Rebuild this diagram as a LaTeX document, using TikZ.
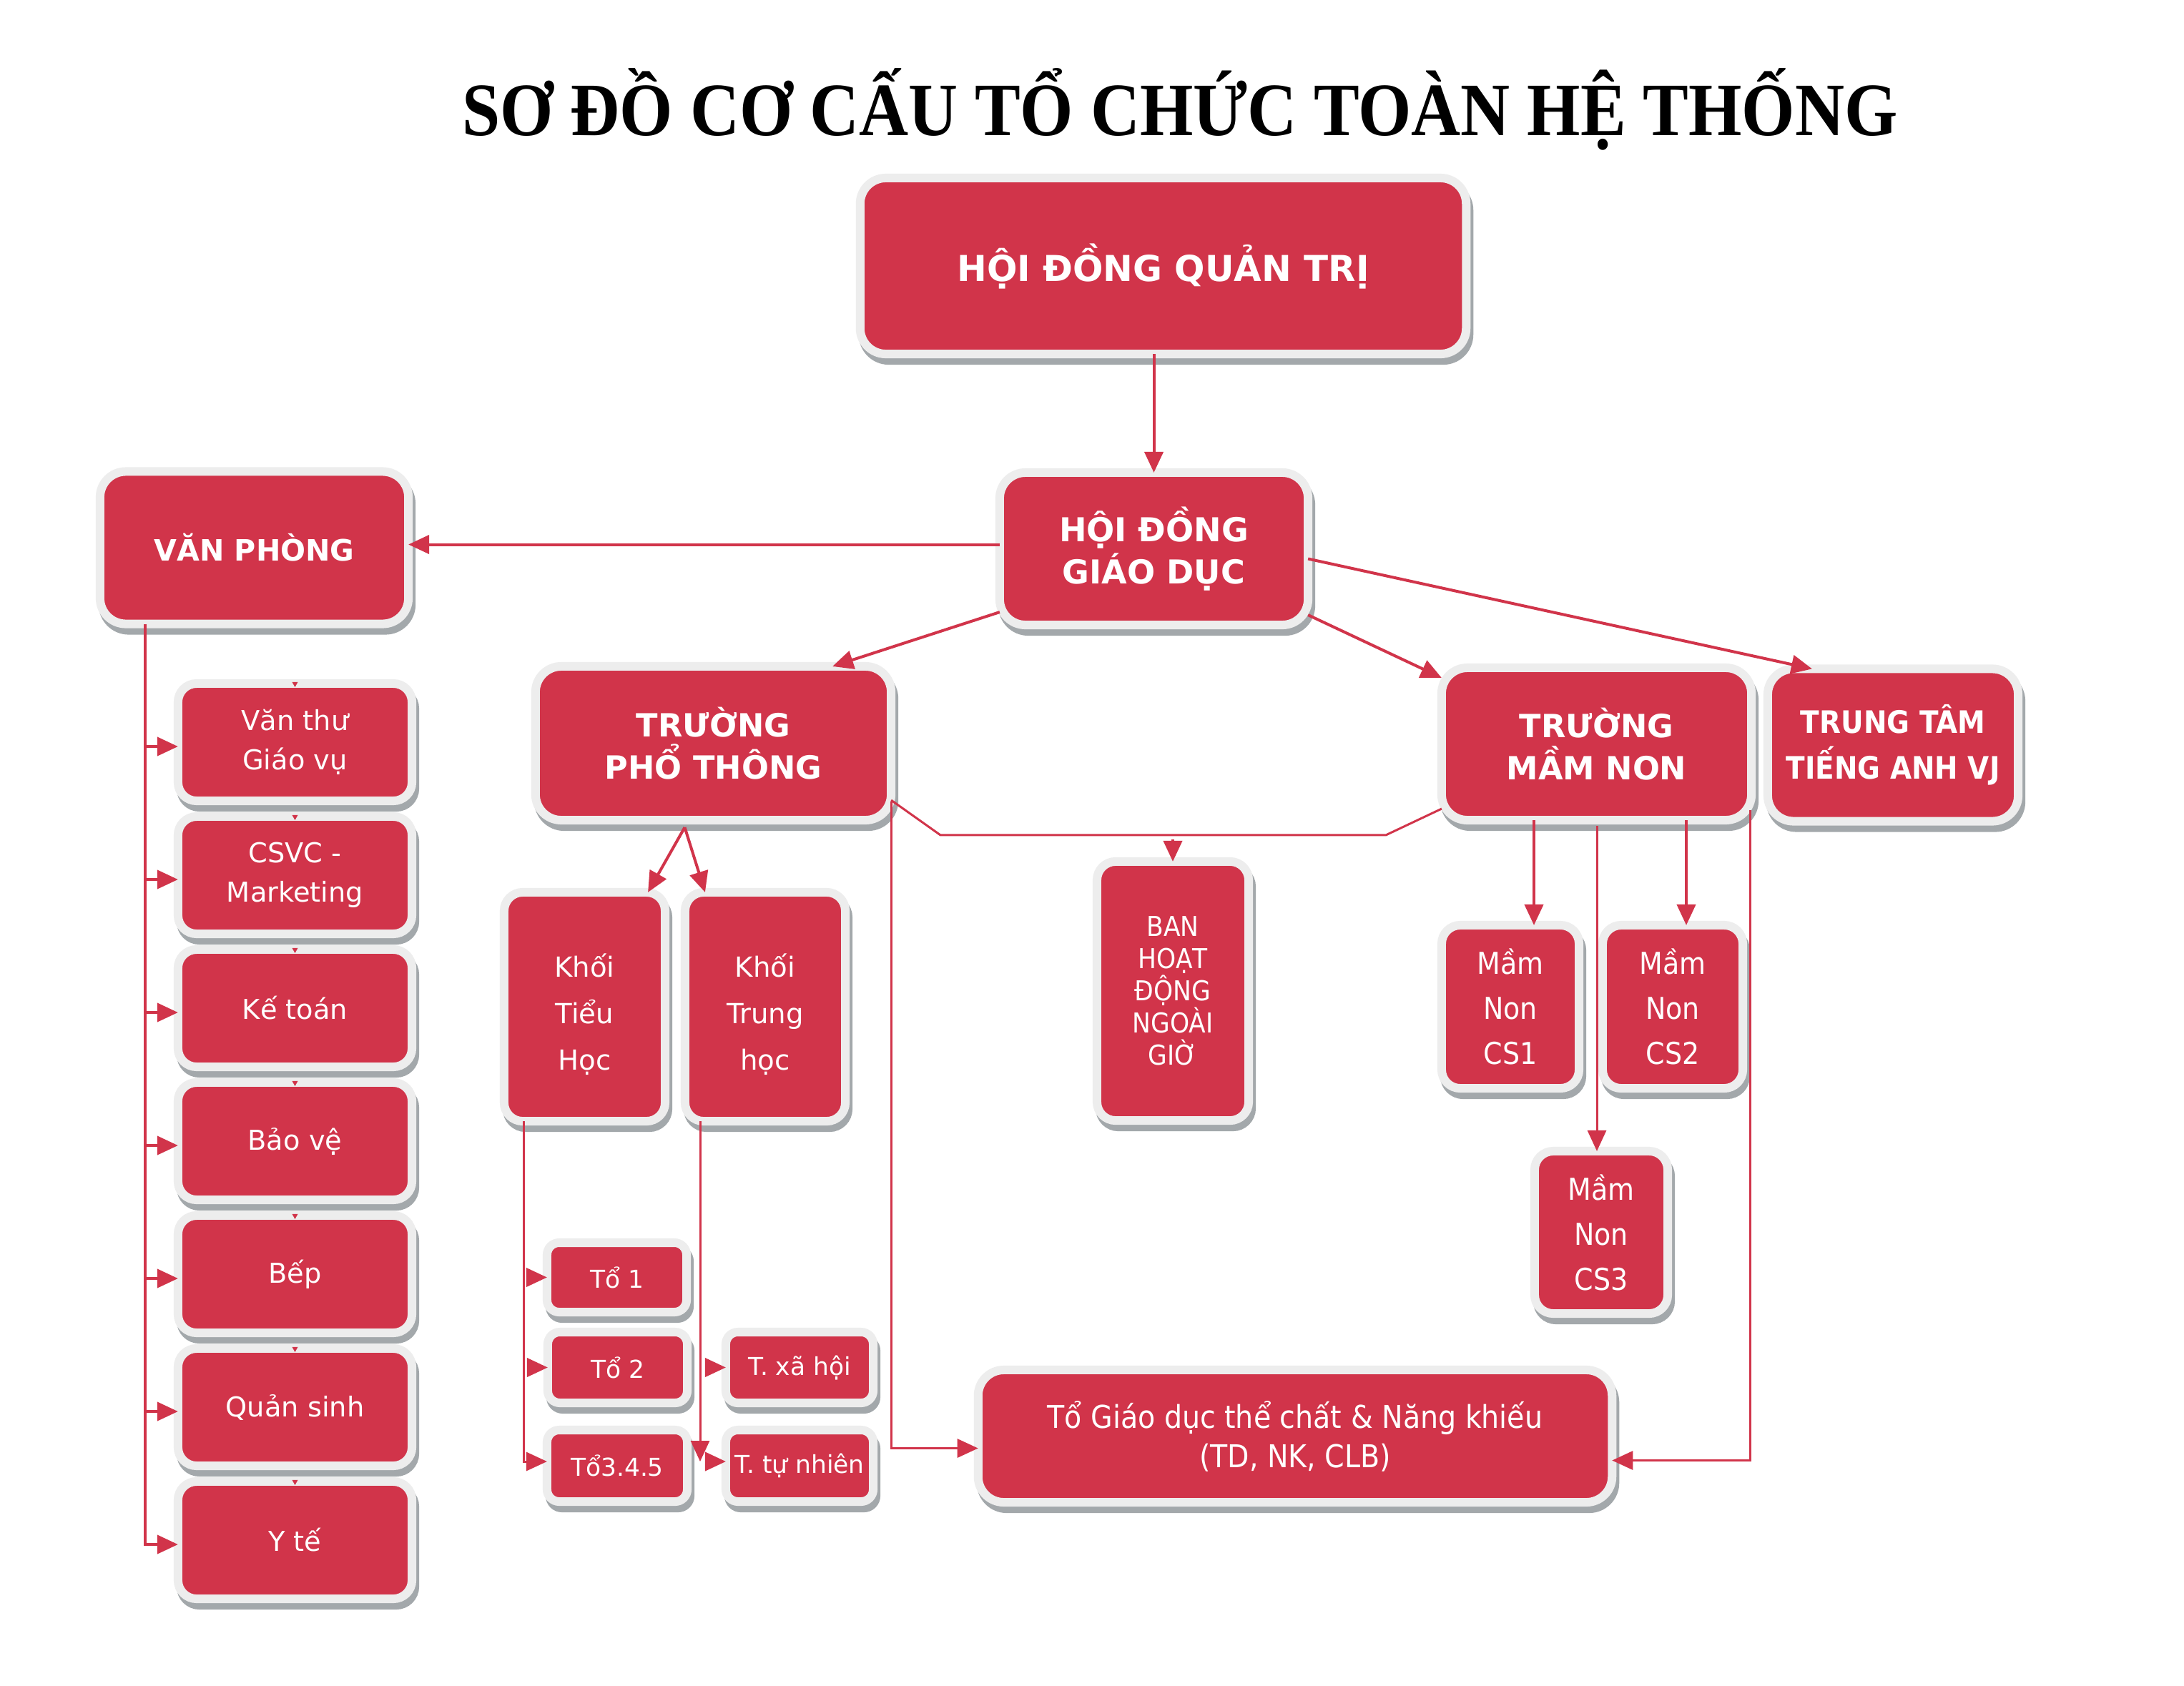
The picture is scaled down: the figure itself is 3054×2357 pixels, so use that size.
\documentclass[tikz,border=0pt]{standalone}
\usepackage{graphicx}
\usepackage{fontspec}
\setmainfont{DejaVu Sans}
\newfontfamily\fcond{DejaVu Sans Condensed}
\newfontfamily\ftitle{Liberation Serif}
\usetikzlibrary{arrows.meta}
\definecolor{boxred}{HTML}{D1344A}
\definecolor{rim}{HTML}{EDEDED}
\definecolor{shad}{HTML}{A3A8AB}
\definecolor{linered}{HTML}{D1344A}
\tikzset{
 base/.style={rectangle, fill=boxred, draw=rim, line width=0.12cm, inner sep=0pt, outer sep=0pt, text=white, align=center,
   preaction={fill=shad, draw=shad, line width=0.12cm, transform canvas={xshift=0.04cm, yshift=-0.09cm}}},
 big/.style={base, rounded corners=0.36cm},
 mid/.style={base, rounded corners=0.26cm},
 small/.style={base, rounded corners=0.17cm},
 subbox/.style={mid, minimum width=3.27cm, minimum height=1.64cm, font=\fontsize{10.9}{15.6}\selectfont},
 khoi/.style={mid, minimum width=2.25cm, minimum height=3.20cm, font=\fontsize{11}{18.5}\selectfont},
 tobox/.style={small, font=\fontsize{9.8}{12}\selectfont},
 csbox/.style={mid, minimum height=2.28cm, font=\fcond\fontsize{12}{17.9}\selectfont},
 head/.style={big, font=\bfseries\fontsize{12.7}{17}\selectfont},
 conn/.style={draw=linered, line width=0.04cm},
 arr/.style={conn, -{Triangle[length=0.29cm, width=0.26cm]}},
 thin/.style={draw=linered, line width=0.03cm},
 thinarr/.style={thin, -{Triangle[length=0.29cm, width=0.26cm]}},
}
\begin{document}
\begin{tikzpicture}[x=0.01cm, y=-0.01cm]
\fill[white] (0,0) rectangle (3054,2357);
\useasboundingbox (0,0) rectangle (3054,2357);

% title
\node[font=\ftitle\bfseries\fontsize{30}{36}\selectfont, inner sep=0pt, anchor=base] (title) at (1650,189)
  {\resizebox{20.06cm}{\height}{SƠ ĐỒ CƠ CẤU TỔ CHỨC TOÀN HỆ THỐNG}};

% main boxes
\node[big, minimum width=8.47cm, minimum height=2.46cm, font=\bfseries\fontsize{14.2}{17}\selectfont] (hdqt) at (1626.5,372) {HỘI ĐỒNG QUẢN TRỊ};
\node[big, minimum width=4.31cm, minimum height=2.13cm, font=\bfseries\fontsize{13.1}{17}\selectfont] (hdgd) at (1613.5,767.5) {HỘI ĐỒNG\\GIÁO DỤC};
\node[big, minimum width=4.31cm, minimum height=2.13cm, font=\bfseries\fontsize{11.7}{15}\selectfont] (vp) at (355.5,766) {VĂN PHÒNG};
\node[head, minimum width=4.97cm, minimum height=2.15cm] (pt) at (997.5,1039.5) {TRƯỜNG\\PHỔ THÔNG};
\node[head, minimum width=4.33cm, minimum height=2.13cm] (mn) at (2232.5,1040.5) {TRƯỜNG\\MẦM NON};
\node[big, minimum width=3.50cm, minimum height=2.13cm, font=\fcond\bfseries\fontsize{12.3}{18.2}\selectfont] (tt) at (2647,1042) {TRUNG TÂM\\TIẾNG ANH VJ};

% van phong children
\node[subbox] (vt) at (412.5,1038) {Văn thư\\Giáo vụ};
\node[subbox] (csvc) at (412.5,1224) {CSVC -\\Marketing};
\node[subbox] (kt) at (412.5,1410) {Kế toán};
\node[subbox] (bv) at (412.5,1596) {Bảo vệ};
\node[subbox] (bep) at (412.5,1782) {Bếp};
\node[subbox] (qs) at (412.5,1968) {Quản sinh};
\node[subbox] (yt) at (412.5,2154) {Y tế};

% pho thong children
\node[khoi] (kth) at (817.5,1408) {\raisebox{-0.2cm}[0pt][0pt]{\begin{tabular}{@{}c@{}}Khối\\Tiểu\\Học\end{tabular}}};
\node[khoi, minimum width=2.24cm] (ktrh) at (1070,1408) {\raisebox{-0.2cm}[0pt][0pt]{\begin{tabular}{@{}c@{}}Khối\\Trung\\học\end{tabular}}};
\node[tobox, minimum width=1.95cm, minimum height=0.97cm] (to1) at (862.5,1786.5) {Tổ 1};
\node[tobox, minimum width=1.95cm, minimum height=0.99cm] (to2) at (863.5,1912.5) {Tổ 2};
\node[tobox, minimum width=1.96cm, minimum height=1.00cm] (to345) at (863,2050) {Tổ3.4.5};
\node[tobox, minimum width=2.06cm, minimum height=0.99cm] (txh) at (1118,1912.5) {T. xã hội};
\node[tobox, minimum width=2.06cm, minimum height=1.00cm] (ttn) at (1118,2050) {T. tự nhiên};

% ban hoat dong
\node[mid, minimum width=2.12cm, minimum height=3.62cm, font=\fcond\fontsize{10.9}{12.8}\selectfont] (ban) at (1640,1386) {BAN\\HOẠT\\ĐỘNG\\NGOÀI\\GIỜ};

% mam non children
\node[csbox, minimum width=1.92cm] (cs1) at (2112,1408) {Mầm\\Non\\CS1};
\node[csbox, minimum width=1.96cm] (cs2) at (2339,1408) {Mầm\\Non\\CS2};
\node[csbox, minimum width=1.86cm, minimum height=2.27cm] (cs3) at (2239,1723.5) {Mầm\\Non\\CS3};

% to giao duc the chat
\node[big, minimum width=8.86cm, minimum height=1.85cm, font=\fcond\fontsize{12.5}{15.6}\selectfont] (gdtc) at (1811,2008.5) {Tổ Giáo dục thể chất \& Năng khiếu\\(TD, NK, CLB)};

% ---------- connectors ----------
\draw[arr] (hdgd.north |- hdqt.south) -- (hdgd.north);
\coordinate (hdw) at ([shift={(0,-6)}]hdgd.west);
\draw[arr] (hdw) -- (vp.east |- hdw);
\draw[arr] ([shift={(0,-18)}]hdgd.south west) -- ([shift={(-82,0)}]pt.north east);
\draw[arr] ([shift={(0,-14)}]hdgd.south east) -- ([shift={(0,14)}]mn.north west);
\draw[arr] ([shift={(0,14)}]hdgd.east) -- ([shift={(62,0)}]tt.north west);

% van phong tree
\coordinate (vpl) at ([shift={(-153,0)}]vp.south);
\foreach \n in {vt,csvc,kt,bv,bep,qs,yt} {
  \coordinate (\n-in) at ([shift={(0,6)}]\n.west);
}
\draw[arr] (vpl) |- (yt-in);
\foreach \n in {vt,csvc,kt,bv,bep,qs} {
  \draw[arr] (\n-in -| vpl) -- (\n-in);
}
\foreach \n in {vt,csvc,kt,bv,bep,qs,yt} {
  \fill[linered] ([shift={(-4,-2)}]\n.north) -- ([shift={(4,-2)}]\n.north) -- ([shift={(0,5)}]\n.north) -- cycle;
}

% pho thong -> khoi
\coordinate (ptap) at ([shift={(-40,10)}]pt.south);
\draw[arr] (ptap) -- ([shift={(-24,0)}]kth.north east);
\draw[arr] (ptap) -- ([shift={(28,0)}]ktrh.north west);

% khoi tieu hoc -> to
\coordinate (kthl) at ([shift={(-85,0)}]kth.south);
\coordinate (t345in) at ([shift={(0,-6)}]to345.west);
\draw[thinarr] (kthl) |- (t345in);
\draw[arr] ([shift={(-26,0)}]to1.west) -- (to1.west);
\draw[arr] ([shift={(-26,0)}]to2.west) -- (to2.west);

% khoi trung hoc -> to
\coordinate (ktrl) at ([shift={(-91,0)}]ktrh.south);
\draw[thinarr] (ktrl) -- (ktrl |- t345in);
\coordinate (ttnin) at ([shift={(0,-6)}]ttn.west);
\draw[arr] ([shift={(-28,0)}]ttnin) -- (ttnin);
\draw[arr] ([shift={(-26,0)}]txh.west) -- (txh.west);

% pho thong -> to giao duc the chat
\coordinate (ptr) at ([shift={(0,-26)}]pt.south east);
\coordinate (gdl) at ([shift={(0,17)}]gdtc.west);
\draw[thinarr] (ptr) |- (gdl);

% pho thong / mam non -> ban
\coordinate (ptb) at ([shift={(0,-28)}]pt.south east);
\coordinate (mnb) at ([shift={(0,-16)}]mn.south west);
\coordinate (banh) at ([shift={(0,-37)}]ban.north);
\draw[thin] (ptb) -- ([shift={(-325,0)}]banh) -- ([shift={(298,0)}]banh) -- (mnb);
\draw[arr] ([shift={(0,-31)}]ban.north) -- (ban.north);

% mam non -> co so
\coordinate (c1t) at ([shift={(33,0)}]cs1.north);
\coordinate (c2t) at ([shift={(19,0)}]cs2.north);
\coordinate (c3t) at ([shift={(-6,0)}]cs3.north);
\coordinate (c3s) at (c3t |- mn.south);
\draw[arr] (c1t |- mn.south) -- (c1t);
\draw[arr] (c2t |- mn.south) -- (c2t);
\draw[thinarr] ([shift={(0,8)}]c3s) -- (c3t);

% mam non -> to giao duc the chat
\coordinate (mnr) at ([shift={(-2,-14)}]mn.south east);
\coordinate (gdr) at ([shift={(0,34)}]gdtc.east);
\draw[thinarr] (mnr) |- (gdr);
\end{tikzpicture}
\end{document}
